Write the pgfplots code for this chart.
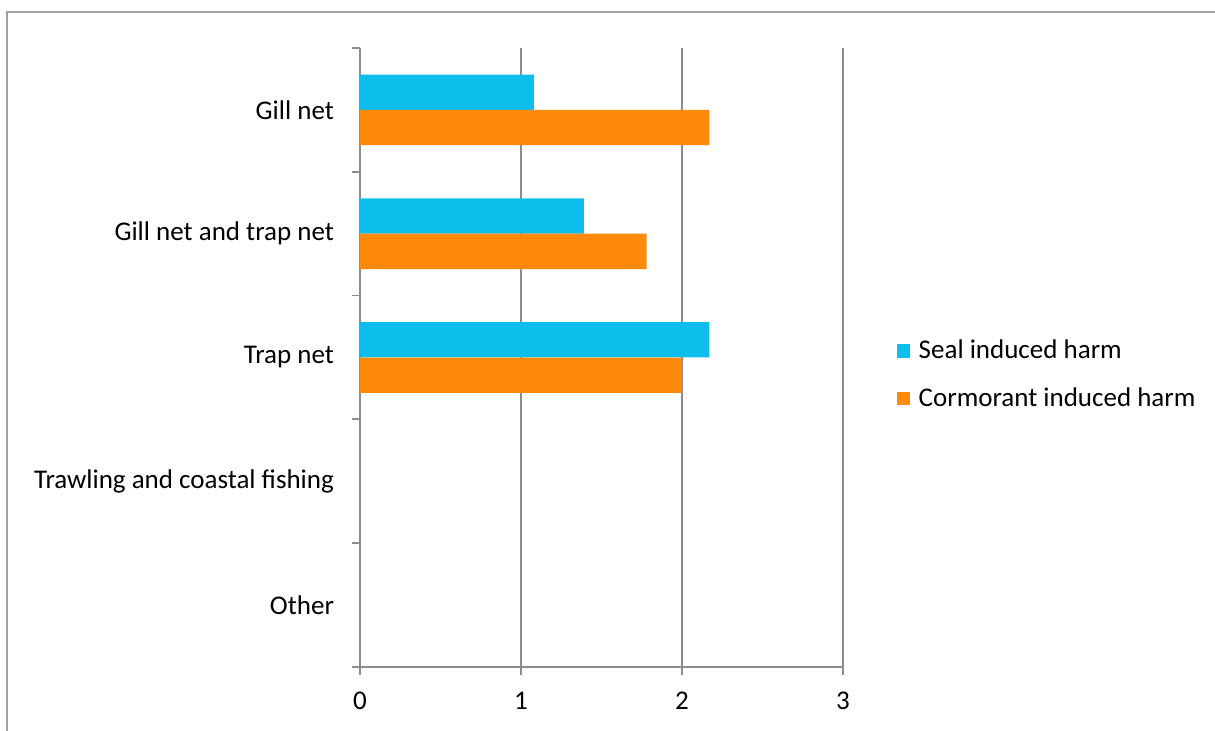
\documentclass[border=0pt]{standalone}
\usepackage{pgfplots}
\pgfplotsset{compat=1.18}
\usepackage{fontspec}
\setmainfont{Carlito}
\definecolor{sealc}{RGB}{13,190,236}
\definecolor{cormc}{RGB}{254,138,12}
\definecolor{axgray}{RGB}{140,140,140}
\definecolor{framegray}{RGB}{160,160,160}
\begin{document}
\begin{tikzpicture}
\useasboundingbox (0,0) rectangle (607.5pt,365.5pt);
\draw[framegray, line width=1pt] (3.5pt,0) -- (3.5pt,359.5pt) -- (608pt,359.5pt);
\begin{axis}[
  at={(180pt,32pt)}, anchor=south west,
  scale only axis, width=241.5pt, height=309.5pt,
  xmin=0, xmax=3, ymin=-0.5, ymax=4.5,
  font=\fontsize{13.5}{16}\selectfont,
  /pgf/number format/assume math mode=true,
  axis x line=bottom, axis y line=left,
  axis line style={-, draw=axgray, line width=0.9pt},
  tick style={draw=axgray, line width=0.9pt},
  tick align=outside, major tick length=4pt,
  xtick={0,1,2,3},
  xmajorgrids, grid style={draw=axgray, line width=0.9pt},
  xticklabel style={yshift=-5pt},
  ytick={-0.5,0.5,1.5,2.5,3.5,4.5}, yticklabels={},
  extra y ticks={0,1,2,3,4},
  extra y tick labels={Other,Trawling and coastal fishing,Trap net,Gill net and trap net,Gill net},
  extra y tick style={major tick length=0pt, tick style={draw=none}, yticklabel style={xshift=-9.5pt}},
  xbar=0pt, bar width=17.65pt,
  legend style={at={(1.11,0.472)}, anchor=west, draw=none, fill=none,
    font=\fontsize{13.5}{16}\selectfont, row sep=9pt, inner sep=0pt,
    /tikz/every odd column/.append style={column sep=2.5pt}},
  legend cell align=left,
  legend image code/.code={\fill[#1] (0pt,-3.3pt) rectangle (6.6pt,3.3pt);},
]
\addplot[draw=none, fill=sealc, bar shift=8.83pt] coordinates {(1.08,4) (1.39,3) (2.17,2)};
\addplot[draw=none, fill=cormc, bar shift=-8.83pt] coordinates {(2.17,4) (1.78,3) (2.0,2)};
\legend{Seal induced harm, Cormorant induced harm}
\end{axis}
\end{tikzpicture}
\end{document}
